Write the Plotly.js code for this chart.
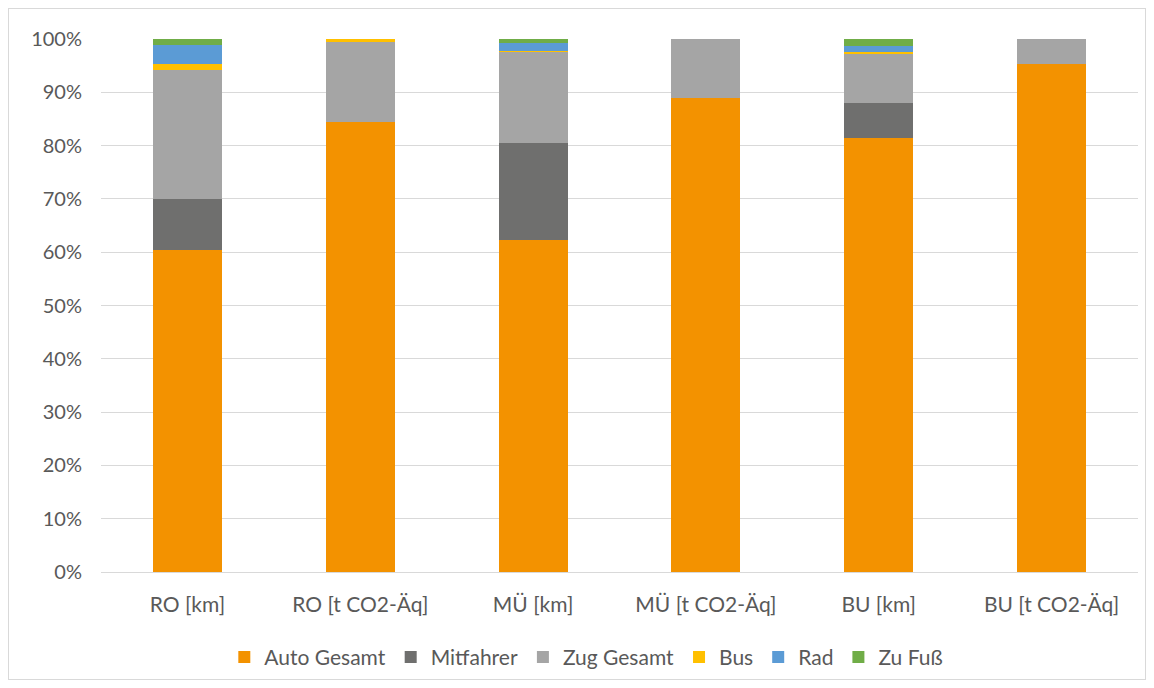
<!DOCTYPE html>
<html>
<head>
<meta charset="utf-8">
<script src="https://cdn.plot.ly/plotly-3.0.1.min.js"></script>
<style>
html,body{margin:0;padding:0;background:#fff;}
#wrap{position:absolute;left:8px;top:8px;width:1136px;height:670px;border:1px solid #d9d9d9;}
#chart{width:1136px;height:670px;}
</style>
</head>
<body>
<div id="wrap"><div id="chart"></div></div>
<script>
const categories = ["RO [km]", "RO [t CO2-Äq]", "MÜ [km]", "MÜ [t CO2-Äq]", "BU [km]", "BU [t CO2-Äq]"];
const autoGesamt = [60.4, 84.4, 62.3, 88.9, 81.4, 95.3];
const mitfahrer  = [9.6, 0.0, 18.2, 0.0, 6.6, 0.0];
const zugGesamt  = [24.2, 15.0, 17.1, 11.1, 9.1, 4.7];
const bus        = [1.1, 0.6, 0.1, 0.0, 0.4, 0.0];
const rad        = [3.6, 0.0, 1.6, 0.0, 1.2, 0.0];
const zuFuss     = [1.1, 0.0, 0.8, 0.0, 1.3, 0.0];
const yTickVals  = [0,10,20,30,40,50,60,70,80,90,100];
const yTickText  = ["0%","10%","20%","30%","40%","50%","60%","70%","80%","90%","100%"];

const series = [
  {name:"Auto Gesamt", y:autoGesamt, color:"#F39200"},
  {name:"Mitfahrer", y:mitfahrer, color:"#6F6F6E"},
  {name:"Zug Gesamt", y:zugGesamt, color:"#A5A5A5"},
  {name:"Bus", y:bus, color:"#FFC000"},
  {name:"Rad", y:rad, color:"#5B9BD5"},
  {name:"Zu Fuß", y:zuFuss, color:"#70AD47"}
];
const data = series.map(s => ({
  type:"bar", name:s.name, x:categories, y:s.y,
  marker:{color:s.color, line:{width:0}},
  hoverinfo:"name+y"
}));
const font = {family:"Lato, 'Open Sans', sans-serif", size:20, color:"#595959"};
const xfont = {family:"Lato, 'Open Sans', sans-serif", size:21, color:"#595959"};
const lfont = {family:"Lato, 'Open Sans', sans-serif", size:21, color:"#595959"};
const layout = {
  width:1136, height:670,
  margin:{l:92, r:7, t:30, b:107, autoexpand:false},
  barmode:"stack", bargap:0.6,
  paper_bgcolor:"#fff", plot_bgcolor:"#fff",
  font:font,
  showlegend:true,
  legend:{orientation:"h", x:0.468, xanchor:"center", y:-0.16, yanchor:"middle", traceorder:"normal", font:lfont, itemwidth:30},
  xaxis:{type:"category", showgrid:false, zeroline:false, showline:true, linecolor:"#d9d9d9", ticks:"", tickfont:xfont, ticklabelstandoff:14, automargin:false},
  yaxis:{range:[0,100], tickvals:yTickVals, ticktext:yTickText, showgrid:true, gridcolor:"#d9d9d9", gridwidth:1, zeroline:false, showline:false, ticks:"", tickfont:font, ticklabelstandoff:18, automargin:false}
};
Plotly.newPlot("chart", data, layout, {displayModeBar:false});
</script>
</body>
</html>
